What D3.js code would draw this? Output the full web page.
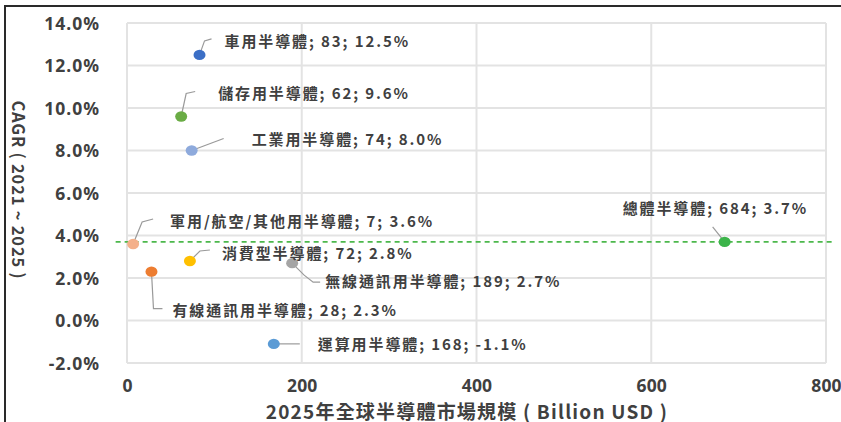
<!DOCTYPE html>
<html><head><meta charset="utf-8">
<script src="https://cdn.jsdelivr.net/npm/d3@7"></script>
<style>
html,body{margin:0;padding:0;background:#fff;}
svg{display:block;}
text{font-family:"Noto Sans CJK TC","Noto Sans",sans-serif;fill:#404040;}
</style></head>
<body>
<svg id="c" width="841" height="422"></svg>
<script>
// ---- data ----
const names = ["車用半導體","儲存用半導體","工業用半導體","軍用/航空/其他用半導體","消費型半導體","有線通訊用半導體","無線通訊用半導體","運算用半導體","總體半導體"];
const marketSize = [83, 62, 74, 7, 72, 28, 189, 168, 684];
const cagr = [12.5, 9.6, 8.0, 3.6, 2.8, 2.3, 2.7, -1.1, 3.7];
const colors = ["#3c6fc6","#6aac45","#8eaadc","#f4b08a","#ffc000","#ed7d31","#a5a5a5","#5b9bd5","#3cb44a"];
const xTicks = [0, 200, 400, 600, 800];
const yTicks = [-2, 0, 2, 4, 6, 8, 10, 12, 14];
const refLineValue = 3.7;
const refLineX = [-13, 810];
const xTitle = "2025年全球半導體市場規模 ( Billion USD )";
const yTitle = "CAGR ( 2021 ~ 2025 )";

// ---- label layout (pixel offsets from the dot) ----
const labelOffset = [[25,-14],[37,-24],[60,-12],[37,-24],[32,-9],[21,38],[33,17],[44,0],[-102,-34]];
const leaderPts = [
  [[0,0],[5,-14],[12,-16]],
  [[0,0],[5,-23],[14,-25]],
  [[0,0],[32,-12]],
  [[0,0],[9,-22],[20,-25]],
  [[0,0],[10,-10],[20,-11]],
  [[0,0],[2,37],[11,37]],
  [[0,0],[12,12],[21,19],[28,19]],
  [[0,0],[26,0]],
  [[0,0],[-12,-15]]
];

const svg = d3.select("#c");
const x = d3.scaleLinear().domain([0, 800]).range([127, 826]);
const y = d3.scaleLinear().domain([-2, 14]).range([363, 23]);

// border
svg.append("rect").attr("x",5).attr("y",6).attr("width",900).attr("height",600)
  .attr("fill","none").attr("stroke","#2a2a2a").attr("stroke-width",2);

// grid
const grid = svg.append("g");
grid.selectAll("line.h").data(yTicks).join("line")
  .attr("x1", x(0)).attr("x2", x(800)).attr("y1", d=>y(d)).attr("y2", d=>y(d))
  .attr("stroke","#e3e3e3").attr("stroke-width",2);
grid.selectAll("line.v").data(xTicks).join("line")
  .attr("x1", d=>x(d)).attr("x2", d=>x(d)).attr("y1", y(14)).attr("y2", y(-2))
  .attr("stroke","#e3e3e3").attr("stroke-width",2);

// axes
const yAxis = svg.append("g").attr("transform",`translate(${x(0)-24},0)`)
  .call(d3.axisLeft(y).tickValues(yTicks).tickFormat(d=>d.toFixed(1)+"%").tickSize(0));
yAxis.select(".domain").remove();
yAxis.selectAll("text").attr("font-size",17.5).attr("font-weight","bold").attr("letter-spacing","1px")
  .style("font-family","'Noto Sans',sans-serif").attr("fill","#404040").attr("dy","0.35em");

const xAxis = svg.append("g").attr("transform",`translate(0,${y(-2)+14})`)
  .call(d3.axisBottom(x).tickValues(xTicks).tickFormat(d3.format("d")).tickSize(0));
xAxis.select(".domain").remove();
xAxis.selectAll("text").attr("font-size",17.5).attr("font-weight","bold").attr("letter-spacing","0.2px")
  .style("font-family","'Noto Sans',sans-serif").attr("fill","#404040").attr("dy","0.71em");

// titles
svg.append("text").attr("transform","translate(19,190) rotate(90)")
  .attr("text-anchor","middle").attr("dominant-baseline","central")
  .attr("font-size",16.5).attr("font-weight","bold").attr("letter-spacing","0.8px").text(yTitle);
svg.append("text").attr("x",467).attr("y",410).attr("text-anchor","middle").attr("dominant-baseline","central")
  .attr("font-size",19).attr("font-weight","bold").attr("letter-spacing","1.2px").text(xTitle);

// reference dashed line
svg.append("line").attr("x1",x(refLineX[0])).attr("x2",x(refLineX[1]))
  .attr("y1",y(refLineValue)).attr("y2",y(refLineValue))
  .attr("stroke","#4cb84c").attr("stroke-width",1.6).attr("stroke-dasharray","5,4");

// leaders
const idx = d3.range(names.length);
svg.append("g").selectAll("polyline").data(idx).join("polyline")
  .attr("points", i => leaderPts[i].map(p=>[x(marketSize[i])+p[0], y(cagr[i])+p[1]].join(",")).join(" "))
  .attr("fill","none").attr("stroke","#9a9a9a").attr("stroke-width",1.2);

// dots
svg.append("g").selectAll("ellipse").data(idx).join("ellipse")
  .attr("cx", i=>x(marketSize[i])).attr("cy", i=>y(cagr[i]))
  .attr("rx",6).attr("ry",5.2).attr("fill", i=>colors[i]);

// labels
svg.append("g").selectAll("text").data(idx).join("text")
  .attr("x", i=>x(marketSize[i])+labelOffset[i][0])
  .attr("y", i=>y(cagr[i])+labelOffset[i][1])
  .attr("dominant-baseline","central")
  .attr("font-size",15).attr("font-weight","bold").attr("letter-spacing","1.9px")
  .text(i => `${names[i]}; ${marketSize[i]}; ${cagr[i].toFixed(1)}%`);
</script>
</body></html>
